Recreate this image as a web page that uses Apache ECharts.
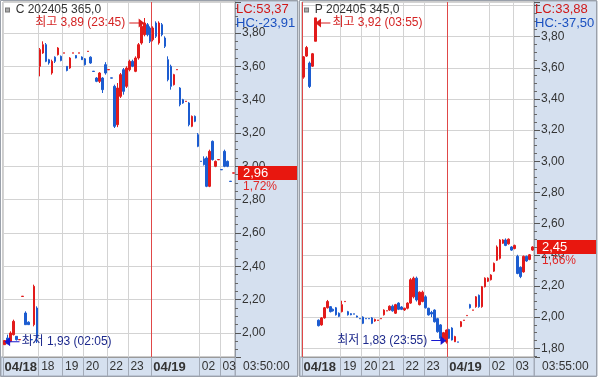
<!DOCTYPE html>
<html><head><meta charset="utf-8">
<script src="https://cdn.jsdelivr.net/npm/echarts@6/dist/echarts.min.js"></script>
<style>html,body{margin:0;padding:0;background:#fff}#c{width:598px;height:379px}</style>
</head><body><div id="c"></div>
<script>
// ---------- DATA ----------
const leftTitle = 'C 202405 365,0';
const rightTitle = 'P 202405 345,0';
const leftLC = 53.37, leftHC = -23.91, leftChange = 1.72;
const rightLC = 33.88, rightHC = -37.50, rightChange = 1.66;

const leftTimes = [
'04/18 02:05','04/18 02:15','04/18 02:20','04/18 02:30','04/18 02:40','04/18 02:45','04/18 02:55','04/18 03:05','04/18 03:15','04/18 03:25','04/18 03:35','04/18 03:45',
'04/18 18:00','04/18 18:10','04/18 18:15','04/18 18:25','04/18 18:30','04/18 18:40','04/18 18:45','04/18 18:55',
'04/18 19:00','04/18 19:10','04/18 19:20','04/18 19:30','04/18 19:35','04/18 19:45','04/18 19:55',
'04/18 20:00','04/18 20:15','04/18 20:30','04/18 20:45',
'04/18 21:00','04/18 21:15','04/18 21:30','04/18 21:50',
'04/18 22:00','04/18 22:10','04/18 22:15','04/18 22:25','04/18 22:35','04/18 22:45','04/18 22:55',
'04/18 23:00','04/18 23:10','04/18 23:20','04/18 23:30','04/18 23:40','04/18 23:45','04/18 23:50','04/18 23:55',
'04/19 00:00','04/19 00:05','04/19 00:10','04/19 00:20','04/19 00:25','04/19 00:35','04/19 00:45','04/19 00:55',
'04/19 01:05','04/19 01:15','04/19 01:20','04/19 01:30','04/19 01:35','04/19 01:40','04/19 01:50','04/19 01:55',
'04/19 02:00','04/19 02:05','04/19 02:15','04/19 02:25','04/19 02:35','04/19 02:45','04/19 02:55',
'04/19 03:00','04/19 03:15','04/19 03:25','04/19 03:40','04/19 03:50'
];
// [open, close, low, high]
const leftOHLC = [
[1.93,1.955,1.93,1.955],[1.97,1.935,1.935,1.99],[1.95,2.00,1.945,2.01],[1.99,2.07,1.985,2.08],
[1.98,1.96,1.955,1.98],[1.959,1.961,1.959,1.961],[2.219,2.221,2.219,2.221],[2.12,2.05,2.05,2.13],
[2.065,2.05,2.05,2.07],[1.961,1.959,1.959,1.961],[2.05,2.28,2.04,2.29],[2.15,1.97,1.94,2.16],
[3.60,3.70,3.54,3.71],[3.68,3.73,3.675,3.75],[3.73,3.63,3.625,3.74],[3.64,3.62,3.61,3.645],
[3.56,3.63,3.55,3.64],[3.655,3.63,3.62,3.66],[3.67,3.71,3.665,3.715],[3.66,3.635,3.63,3.665],
[3.679,3.681,3.679,3.681],[3.60,3.575,3.57,3.60],[3.59,3.65,3.585,3.655],[3.679,3.681,3.679,3.681],
[3.665,3.65,3.648,3.668],[3.679,3.681,3.679,3.681],[3.656,3.64,3.638,3.66],[3.645,3.61,3.605,3.65],
[3.689,3.691,3.689,3.691],[3.655,3.62,3.615,3.66],[3.571,3.569,3.569,3.571],[3.53,3.51,3.505,3.535],
[3.51,3.56,3.50,3.565],[3.53,3.46,3.44,3.535],[3.61,3.56,3.55,3.625],[3.579,3.581,3.579,3.581],
[3.531,3.529,3.529,3.531],[3.48,3.24,3.23,3.49],[3.25,3.47,3.235,3.50],[3.42,3.55,3.41,3.56],
[3.58,3.45,3.43,3.59],[3.48,3.59,3.47,3.60],[3.58,3.63,3.57,3.64],[3.63,3.60,3.595,3.64],
[3.57,3.65,3.565,3.66],[3.65,3.73,3.64,3.74],[3.74,3.84,3.73,3.85],[3.79,3.86,3.78,3.89],
[3.85,3.79,3.78,3.86],[3.83,3.75,3.74,3.84],[3.76,3.83,3.75,3.84],[3.86,3.78,3.77,3.87],
[3.74,3.86,3.73,3.87],[3.85,3.79,3.78,3.86],[3.77,3.72,3.71,3.78],[3.64,3.52,3.51,3.66],
[3.60,3.48,3.46,3.61],[3.49,3.55,3.485,3.555],[3.579,3.581,3.579,3.581],[3.47,3.37,3.36,3.475],
[3.40,3.38,3.375,3.405],[3.389,3.391,3.389,3.391],[3.38,3.25,3.24,3.385],[3.24,3.30,3.235,3.305],
[3.30,3.27,3.265,3.305],[3.19,3.12,3.115,3.20],[3.031,3.029,3.029,3.031],[3.045,3.01,3.005,3.06],
[3.05,2.88,2.875,3.06],[2.88,3.09,2.875,3.10],[3.15,3.04,3.035,3.155],[3.00,3.03,2.995,3.035],
[3.039,3.041,3.039,3.041],[2.981,2.979,2.979,2.981],[3.09,3.00,2.995,3.10],[3.03,3.00,2.995,3.035],
[2.911,2.909,2.909,2.911],[2.959,2.961,2.959,2.961]
];

const rightTimes = [
'04/18 03:35','04/18 03:40','04/18 03:45','04/18 03:50','04/18 03:55',
'04/18 18:05','04/18 18:15','04/18 18:20','04/18 18:30','04/18 18:35','04/18 18:40','04/18 18:50','04/18 18:55',
'04/18 19:00','04/18 19:05','04/18 19:15','04/18 19:25','04/18 19:35','04/18 19:45','04/18 19:55',
'04/18 20:00','04/18 20:10','04/18 20:20','04/18 20:30','04/18 20:40','04/18 20:50',
'04/18 21:00','04/18 21:10','04/18 21:15','04/18 21:25','04/18 21:30','04/18 21:40','04/18 21:45','04/18 21:55',
'04/18 22:00','04/18 22:10','04/18 22:20','04/18 22:25','04/18 22:35','04/18 22:45','04/18 22:55',
'04/18 23:00','04/18 23:05','04/18 23:15','04/18 23:25','04/18 23:35','04/18 23:40','04/18 23:50','04/18 23:55',
'04/19 00:00','04/19 00:05','04/19 00:15','04/19 00:25','04/19 00:30','04/19 00:40','04/19 00:50',
'04/19 01:00','04/19 01:10','04/19 01:20','04/19 01:30','04/19 01:35','04/19 01:45','04/19 01:55',
'04/19 02:00','04/19 02:10','04/19 02:15','04/19 02:25','04/19 02:30','04/19 02:40','04/19 02:45','04/19 02:55',
'04/19 03:00','04/19 03:10','04/19 03:20','04/19 03:30','04/19 03:40','04/19 03:50','04/19 03:55'
];
const rightOHLC = [
[3.54,3.67,3.53,3.675],[3.675,3.73,3.67,3.74],[3.63,3.48,3.47,3.64],[3.61,3.69,3.605,3.695],
[3.77,3.92,3.77,3.92],[1.98,1.945,1.94,1.985],[1.95,1.995,1.945,2.00],[1.995,2.06,1.99,2.065],
[2.06,2.10,2.055,2.11],[2.067,2.035,2.03,2.07],[2.05,2.04,2.035,2.055],[2.06,2.015,2.01,2.065],
[2.025,2.005,2.00,2.03],[2.035,2.08,2.03,2.105],[2.099,2.101,2.099,2.101],[2.035,2.015,2.01,2.04],
[2.022,2.015,2.012,2.025],[2.021,2.019,2.019,2.021],[2.007,2.00,1.998,2.01],[1.991,1.989,1.989,1.991],
[2.00,1.96,1.955,2.005],[1.991,1.989,1.989,1.991],[1.991,1.989,1.989,1.991],[1.995,1.96,1.955,2.00],
[1.975,1.985,1.97,1.99],[1.979,1.981,1.979,1.981],[1.989,1.991,1.989,1.991],[2.015,2.045,2.01,2.05],
[2.039,2.041,2.039,2.041],[2.045,2.07,2.04,2.075],[2.07,2.04,2.035,2.08],[2.025,2.08,2.02,2.085],
[2.09,2.05,2.045,2.095],[2.065,2.05,2.045,2.07],[2.046,2.057,2.04,2.06],[2.057,2.09,2.05,2.095],
[2.09,2.24,2.085,2.25],[2.13,2.25,2.12,2.26],[2.25,2.11,2.10,2.26],[2.08,2.16,2.075,2.165],
[2.10,2.16,2.095,2.17],[2.13,2.06,2.055,2.14],[2.057,2.014,2.01,2.06],[2.03,2.02,2.00,2.04],
[2.045,1.97,1.965,2.05],[1.99,1.906,1.90,1.995],[1.95,1.864,1.85,1.955],[1.86,1.90,1.845,1.905],
[1.84,1.917,1.83,1.92],[1.92,1.864,1.86,1.925],[1.93,1.853,1.85,1.935],[1.842,1.875,1.84,1.88],
[1.841,1.839,1.839,1.841],[1.94,1.97,1.935,1.975],[1.979,1.981,1.979,1.981],[2.009,2.011,2.009,2.011],
[2.08,2.06,2.055,2.085],[2.044,2.046,2.044,2.046],[2.067,2.13,2.06,2.135],[2.14,2.067,2.06,2.145],
[2.067,2.195,2.06,2.20],[2.195,2.25,2.19,2.255],[2.23,2.25,2.225,2.255],[2.24,2.27,2.235,2.275],
[2.295,2.345,2.29,2.35],[2.365,2.45,2.36,2.46],[2.377,2.495,2.37,2.50],[2.474,2.495,2.47,2.50],
[2.495,2.46,2.455,2.505],[2.47,2.50,2.465,2.505],[2.45,2.43,2.425,2.455],[2.44,2.46,2.435,2.465],
[2.39,2.28,2.275,2.40],[2.32,2.26,2.25,2.325],[2.29,2.39,2.285,2.395],[2.39,2.36,2.355,2.395],
[2.37,2.40,2.365,2.405],[2.43,2.45,2.425,2.455]
];

// ---------- STYLE ----------
const FONT = "'Liberation Sans','Noto Sans CJK KR',sans-serif";
const UP = '#e21b1b', DOWN = '#1c5cd0';
const BLUE_BG = '#d5e0ef', FRAME = '#a3abb8';
const GRID_GRAY = '#d3d3d3', DAY_RED = '#e04848';
const fmt = v => v.toFixed(2).replace('.', ',');

function labelPlan(times) {
  const show = [], text = [], isDate = [];
  let last = -99, lastWasDate = false, pd = null, ph = null;
  times.forEach((t, i) => {
    const [d, hm] = t.split(' '); const h = hm.slice(0, 2);
    let s = false, tx = '', dt = false;
    if (d !== pd) { s = true; dt = true; tx = d; }
    else if (h !== ph && i - last >= (lastWasDate ? 12 : 5)) { s = true; tx = h; }
    if (s) { last = i; lastWasDate = dt; }
    show.push(s); text.push(tx); isDate.push(dt);
    pd = d; ph = h;
  });
  return { show, text, isDate };
}
function extremes(o) {
  let hi = 0, lo = 0;
  o.forEach((d, i) => { if (d[3] > o[hi][3]) hi = i; if (d[2] < o[lo][2]) lo = i; });
  return { hi, lo };
}
const ARROW_R = 'path://M0,4 L10,4 L10,0 L16,4.5 L10,9 L10,5 L0,5 Z';
const ARROW_L = 'path://M16,4 L6,4 L6,0 L0,4.5 L6,9 L6,5 L16,5 Z';
function marker(idx, value, time, kind, n) {
  const right = idx < n / 2;
  const isHi = kind === 'hi';
  return {
    coord: [idx, value],
    symbol: right ? ARROW_L : ARROW_R,
    symbolSize: [15, 9],
    symbolOffset: [right ? 7.5 : -7.5, isHi ? 5 : -3],
    itemStyle: { color: isHi ? '#d81c1c' : '#1818d0' },
    label: {
      show: true, position: right ? 'right' : 'left', distance: right ? 2 : 4,
      formatter: (isHi ? '최고 ' : '최저 ') + fmt(value) + ' (' + time + ')',
      color: isHi ? '#d42323' : '#1e2a8c', fontSize: 12, fontFamily: FONT
    }
  };
}

const panels = [
  { times: leftTimes, ohlc: leftOHLC, left: 3, min: 1.856, max: 3.986, title: leftTitle, lc: leftLC, hc: leftHC, chg: leftChange, dayLines: [50], colX: 235 },
  { times: rightTimes, ohlc: rightOHLC, left: 302, min: 1.744, max: 4.022, title: rightTitle, lc: rightLC, hc: rightHC, chg: rightChange, dayLines: [0, 49], colX: 534 }
];

const option = {
  animation: false,
  backgroundColor: '#fff',
  grid: [], xAxis: [], yAxis: [], series: [], title: [],
  graphic: []
};

panels.forEach((p, gi) => {
  const plan = labelPlan(p.times);
  const n = p.times.length;
  const lineColors = [];
  plan.show.forEach((s, i) => { if (s) lineColors.push(p.dayLines.includes(i) ? DAY_RED : GRID_GRAY); });
  lineColors.push(GRID_GRAY);
  option.grid.push({ left: p.left, top: 2, width: 232, height: 355, show: true, backgroundColor: '#fff', borderColor: '#9a9a9a', borderWidth: 1 });
  option.xAxis.push({
    type: 'category', gridIndex: gi, data: p.times, boundaryGap: true, position: 'bottom',
    axisLine: { show: true, lineStyle: { color: '#9a9a9a' } },
    axisTick: { show: true, length: 19, interval: i => plan.show[i], lineStyle: { color: FRAME } },
    splitLine: { show: true, interval: i => plan.show[i], lineStyle: { color: lineColors, width: 1 } },
    axisLabel: {
      show: true, interval: i => plan.show[i], align: 'left', margin: 4,
      formatter: (v, i) => plan.isDate[i] ? '{d|' + plan.text[i] + '}' : '{h|' + plan.text[i] + '}',
      rich: {
        d: { fontWeight: 'bold', fontSize: 13, color: '#333', fontFamily: FONT },
        h: { fontSize: 12, color: '#333', fontFamily: FONT, padding: [0, 0, 0, 1] }
      }
    }
  });
  option.yAxis.push({
    type: 'value', gridIndex: gi, position: 'right', min: p.min, max: p.max, splitNumber: 10,
    axisLine: { show: true, lineStyle: { color: '#8f96a3' } },
    axisTick: { show: true, length: 6, lineStyle: { color: '#555' } },
    minorTick: { show: true, splitNumber: 4, length: 3, lineStyle: { color: '#666' } },
    axisLabel: { margin: 7, color: '#333', fontSize: 12, fontFamily: FONT, showMinLabel: false, showMaxLabel: false,
      formatter: v => (v > 3.9 ? '' : fmt(v)) },
    splitLine: { show: true, lineStyle: { color: GRID_GRAY } }
  });
  const ex = extremes(p.ohlc);
  const last = p.ohlc[n - 1][1];
  const hm = i => p.times[i].split(' ')[1];
  option.series.push({
    type: 'candlestick', xAxisIndex: gi, yAxisIndex: gi, data: p.ohlc.map(d => [d[0], d[1], d[2], d[3]]),
    barWidth: 2, clip: false,
    itemStyle: { color: UP, color0: DOWN, borderColor: UP, borderColor0: DOWN, borderWidth: 1 },
    markPoint: {
      silent: true,
      data: [marker(ex.hi, p.ohlc[ex.hi][3], hm(ex.hi), 'hi', n), marker(ex.lo, p.ohlc[ex.lo][2], hm(ex.lo), 'lo', n)]
    },
    markLine: {
      silent: true, symbol: ['none', 'none'], lineStyle: { color: 'rgba(0,0,0,0)', width: 1, type: 'solid' },
      data: [{ yAxis: last }],
      label: {
        show: true, position: 'end', distance: 3,
        formatter: '{e| }\n{a|' + fmt(last) + '}\n{p|' + fmt(p.chg) + '%}',
        rich: {
          e: { fontSize: 12, lineHeight: 13, height: 13 },
          a: { color: '#fff', backgroundColor: '#e8170f', width: 54, height: 13, lineHeight: 14, padding: [1, 0, 0, 5], fontSize: 13, fontFamily: FONT },
          p: { color: '#e02727', fontSize: 12, lineHeight: 13, padding: [0, 0, 0, 5], fontFamily: FONT }
        }
      }
    }
  });
  option.title.push({
    left: p.left + 3, top: 4, padding: 0, text: '{sq|}  ' + p.title,
    textStyle: { fontSize: 12, color: '#333', fontWeight: 'normal', fontFamily: FONT,
      rich: { sq: { width: 3, height: 3, backgroundColor: '#aaa', borderColor: '#777', borderWidth: 1 } } }
  });
  option.title.push({
    left: p.colX + 1, top: 2, padding: 0,
    text: '{r|LC:' + fmt(p.lc) + '}\n{b|HC:' + fmt(p.hc) + '}',
    textStyle: { fontWeight: 'normal', rich: {
      r: { color: '#d01818', fontSize: 13, lineHeight: 14, fontFamily: FONT, fontWeight: 'normal' },
      b: { color: '#1a50c0', fontSize: 13, lineHeight: 14, fontFamily: FONT, fontWeight: 'normal' } } }
  });
  option.title.push({
    left: p.colX + 8, top: 361, padding: 0, text: hm(n - 1) + ':00',
    textStyle: { fontSize: 12, color: '#333', fontWeight: 'normal', fontFamily: FONT }
  });
  option.graphic.push(
    { type: 'rect', z: -10, silent: true, shape: { x: p.colX, y: 1, width: 63, height: 375 }, style: { fill: BLUE_BG, stroke: FRAME } },
    { type: 'rect', z: -10, silent: true, shape: { x: p.left - 2, y: 357, width: p.colX - p.left + 2, height: 19 }, style: { fill: BLUE_BG, stroke: FRAME } },
    { type: 'rect', z: -10, silent: true, shape: { x: p.left - 2.5, y: 0.5, width: 297, height: 376 }, style: { fill: 'none', stroke: '#9aa0aa' } }
  );
});

const chart = echarts.init(document.getElementById('c'), null, { renderer: 'canvas', width: 598, height: 379 });
chart.setOption(option);
</script></body></html>
